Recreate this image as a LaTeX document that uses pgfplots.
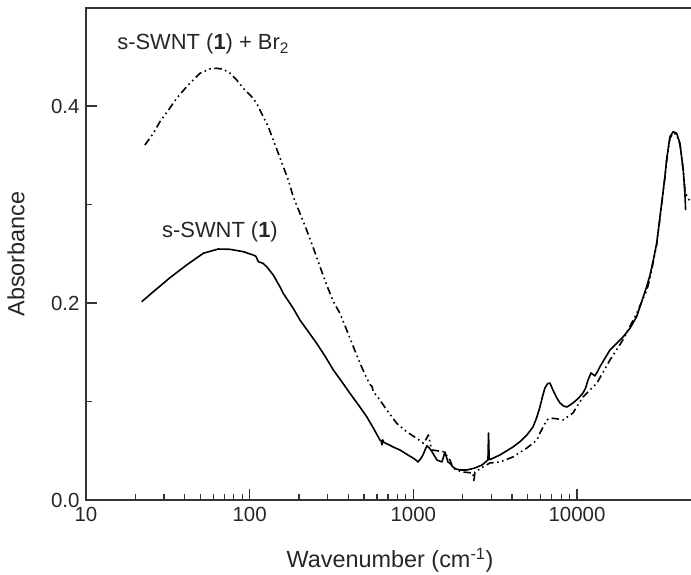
\documentclass[border=0pt]{standalone}
\usepackage{fontspec}
\setmainfont{Liberation Sans}
\usepackage{pgfplots}
\pgfplotsset{compat=1.18}
\usepackage{pgfplotstable}
\usetikzlibrary{calc}

\pgfplotstableread{
x y
21.9 0.2013
25.8 0.2115
32.6 0.2257
41.2 0.2386
52.1 0.2505
64.3 0.2548
75.9 0.2545
91.4 0.2521
105.2 0.2487
109 0.2475
113 0.2419
120.5 0.2403
127 0.2369
139.3 0.2284
153 0.2166
160.4 0.2098
184.5 0.1946
202.8 0.1827
228 0.1710
256.5 0.1591
290 0.1455
324.4 0.1320
366 0.1200
410 0.1083
462 0.0965
518.6 0.0846
570 0.0730
625 0.0609
636 0.0600
643 0.0560
650 0.0610
660 0.0585
700 0.0565
760 0.0535
828 0.0508
910 0.0465
995 0.0426
1030 0.0410
1067 0.0386
1110 0.0420
1145 0.0457
1180 0.0510
1211 0.0550
1250 0.0530
1300 0.0490
1394 0.0406
1495 0.0386
1530 0.0440
1560 0.0487
1590 0.0440
1627 0.0386
1680 0.0370
1744 0.0335
1820 0.0315
1926 0.0305
2125 0.0305
2377 0.0325
2624 0.0355
2856 0.0406
2880 0.0680
2905 0.0420
2937 0.0410
3380 0.0457
4058 0.0538
4500 0.0595
4940 0.0660
5380 0.0741
5650 0.0830
5935 0.0944
6150 0.1050
6365 0.1137
6600 0.1180
6830 0.1188
7125 0.1117
7500 0.1040
7870 0.0985
8250 0.0955
8680 0.0944
9440 0.0985
10150 0.1030
10870 0.1086
11300 0.1140
11670 0.1218
12170 0.1290
12860 0.1260
13300 0.1300
13800 0.1353
15890 0.1523
17460 0.1591
19160 0.1658
21050 0.1743
23120 0.1861
24230 0.1963
25410 0.2064
26630 0.2166
27920 0.2284
29260 0.2437
30660 0.2606
31380 0.2741
32120 0.2876
32880 0.3012
33650 0.3147
34440 0.3282
35250 0.3452
36080 0.3570
36950 0.3688
38700 0.3739
40600 0.3723
42540 0.3621
44550 0.3350
45610 0.3114
46060 0.2944
}\pristine

\pgfplotstableread{
x y
22.9 0.3604
25.8 0.3723
28.3 0.3841
31.9 0.3959
35.8 0.4078
41.2 0.4196
49.7 0.4332
57.1 0.4376
62.8 0.4383
69.0 0.4373
75.9 0.4332
83.3 0.4264
91.4 0.4180
102.8 0.4095
110.3 0.4028
121.1 0.3891
129.9 0.3790
139.3 0.3655
149.6 0.3520
160.4 0.3384
172.2 0.3249
184.5 0.3079
202.8 0.2911
222.8 0.2741
244.7 0.2560
268.7 0.2370
295.1 0.2185
324.4 0.2015
356 0.1895
391.6 0.1726
429.9 0.1556
472 0.1388
519 0.1235
545 0.1170
560 0.1150
569 0.1100
625 0.1015
687 0.0914
791 0.0779
910 0.0693
1048 0.0626
1151 0.0576
1200 0.0620
1236 0.0660
1265 0.0580
1295 0.0508
1400 0.0500
1524 0.0490
1600 0.0450
1674 0.0406
1744 0.0325
1870 0.0300
2009 0.0284
2313 0.0274
2345 0.0183
2377 0.0284
2660 0.0335
2937 0.0376
3380 0.0386
4058 0.0437
4940 0.0528
5690 0.0609
5935 0.0680
6540 0.0812
6830 0.0832
7500 0.0825
8200 0.0812
9440 0.0883
10870 0.1046
13240 0.1188
15890 0.1421
19060 0.1624
23210 0.1898
26710 0.2132
28000 0.2260
29260 0.2420
30660 0.2590
32120 0.2860
33650 0.3130
35250 0.3435
36950 0.3672
38700 0.3725
40600 0.3710
42540 0.3610
44550 0.3350
45800 0.3117
49600 0.3015
}\bromine

\begin{document}
\begin{tikzpicture}
\begin{axis}[
  name=ax,
  xmode=log,
  scale only axis,
  width=605bp, height=492bp,
  xmin=10, xmax=49700,
  ymin=0, ymax=0.4995,
  xtick={10,100,1000,10000},
  xticklabels={10,100,1000,10000},
  ytick={0,0.2,0.4},
  yticklabels={0.0,0.2,0.4},
  minor ytick={0.1,0.3},
  tick pos=left,
  major tick length=11bp,
  minor tick length=6bp,
  tick style={line width=1.2bp, color=black!80},
  axis line style={draw=none},
  tick label style={font=\fontsize{20.5}{22}\selectfont, text=black!85},
  xticklabel style={yshift=-4bp},
  yticklabel style={xshift=-3bp},
  xlabel={Wavenumber (cm\textsuperscript{-1})},
  ylabel={Absorbance},
  every axis x label/.style={at={(axis description cs:0.5025,-0.1382)}, anchor=base, font=\fontsize{23.5}{26}\selectfont, text=black!85},
  every axis y label/.style={at={(axis description cs:-0.1157,0.5)}, anchor=center, rotate=90, font=\fontsize{23.5}{26}\selectfont, text=black!85},
  clip=false,
]
\draw[line width=1.6bp, color=black!80] (axis description cs:1,1) -- (axis description cs:0,1) -- (axis description cs:0,0) -- (axis description cs:1,0);
\addplot[black, line width=1.6bp, line join=round] table[x=x,y=y] {\pristine};
\addplot[black, line width=1.6bp, line join=round, dash pattern=on 7.5bp off 3.5bp on 1.6bp off 3.5bp on 1.6bp off 3.5bp] table[x=x,y=y] {\bromine};
\node[anchor=base west, inner sep=0pt, font=\fontsize{22}{24}\selectfont, text=black!85] at (axis cs:15.5,0.457) {s-SWNT (\textbf{1}) + Br\textsubscript{2}};
\node[anchor=base west, inner sep=0pt, font=\fontsize{22}{24}\selectfont, text=black!85] at (axis cs:29.1,0.267) {s-SWNT (\textbf{1})};
\end{axis}
\pgfresetboundingbox
\path[use as bounding box] ($(ax.south west)+(-86bp,-75bp)$) rectangle ($(ax.north east)+(0,8bp)$);
\end{tikzpicture}
\end{document}
